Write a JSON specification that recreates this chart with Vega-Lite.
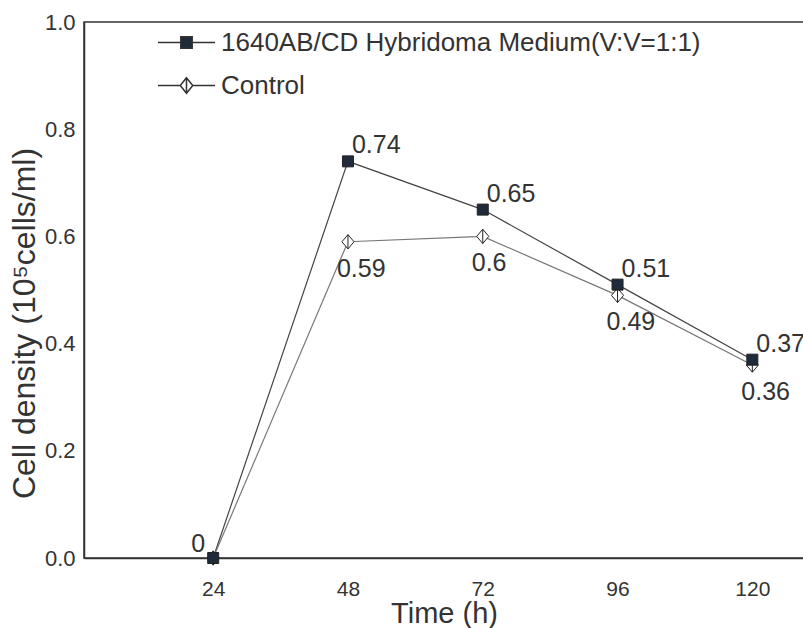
{
  "$schema": "https://vega.github.io/schema/vega-lite/v6.json",
  "width": 720,
  "height": 536,
  "autosize": {"type": "none"},
  "padding": {"left": 84, "top": 22, "right": 0, "bottom": 70},
  "background": "white",
  "config": {
    "font": "Liberation Sans",
    "view": {"stroke": "#333", "strokeWidth": 1.5},
    "axis": {"grid": false, "ticks": false, "domainColor": "#333", "domainWidth": 1.5, "labelColor": "#333", "titleColor": "#333", "labelFont": "Liberation Sans", "titleFont": "Liberation Sans", "titleFontWeight": "normal"}
  },
  "data": {
    "values": [
      {"time": 24, "density": 0, "series": "Control"},
      {"time": 48, "density": 0.59, "series": "Control"},
      {"time": 72, "density": 0.6, "series": "Control"},
      {"time": 96, "density": 0.49, "series": "Control"},
      {"time": 120, "density": 0.36, "series": "Control"},
      {"time": 24, "density": 0, "series": "1640AB/CD Hybridoma Medium(V:V=1:1)"},
      {"time": 48, "density": 0.74, "series": "1640AB/CD Hybridoma Medium(V:V=1:1)"},
      {"time": 72, "density": 0.65, "series": "1640AB/CD Hybridoma Medium(V:V=1:1)"},
      {"time": 96, "density": 0.51, "series": "1640AB/CD Hybridoma Medium(V:V=1:1)"},
      {"time": 120, "density": 0.37, "series": "1640AB/CD Hybridoma Medium(V:V=1:1)"}
    ]
  },
  "encoding": {
    "x": {"field": "time", "type": "quantitative", "scale": {"domain": [1, 129.2], "nice": false, "zero": false},
      "axis": {"values": [24, 48, 72, 96, 120], "title": "Time (h)", "labelFontSize": 21, "labelPadding": 20, "titleFontSize": 29, "titlePadding": 0}},
    "y": {"field": "density", "type": "quantitative", "scale": {"domain": [0, 1], "nice": false},
      "axis": {"values": [0, 0.2, 0.4, 0.6, 0.8, 1.0], "format": ".1f", "title": "Cell density (10⁵cells/ml)", "labelFontSize": 22, "labelPadding": 9, "titleFontSize": 32, "titlePadding": 3, "titleY": 301}}
  },
  "layer": [
    {
      "transform": [{"filter": "datum.series !== 'Control'"}],
      "mark": {"type": "line", "strokeWidth": 1.2, "stroke": "#444"},
      "encoding": {}
    },
    {
      "transform": [{"filter": "datum.series === 'Control'"}],
      "mark": {"type": "line", "strokeWidth": 1.2, "stroke": "#777"},
      "encoding": {}
    },
    {
      "transform": [{"filter": "datum.series === 'Control'"}],
      "mark": {"type": "point", "filled": true, "fill": "white", "stroke": "#222", "strokeWidth": 1, "opacity": 1, "size": 121, "shape": "M0,-1.3L1.1,0L0,1.3L-1.1,0ZM0,-1.3V1.3"},
      "encoding": {}
    },
    {
      "transform": [{"filter": "datum.series !== 'Control'"}],
      "mark": {"type": "point", "filled": true, "fill": "#1f2a3a", "stroke": "#222", "strokeWidth": 1, "opacity": 1, "size": 121, "shape": "M-1,-1H1V1H-1Z"},
      "encoding": {}
    },
    {
      "transform": [{"filter": "datum.time < 0"}],
      "mark": {"type": "point", "filled": true, "stroke": "#333", "strokeWidth": 1.2, "opacity": 1, "size": 3249},
      "encoding": {
        "shape": {"field": "series", "type": "nominal",
          "scale": {"domain": ["1640AB/CD Hybridoma Medium(V:V=1:1)", "Control"], "range": ["M-1,0H-0.2M0.2,0H1M-0.2,-0.2H0.2V0.2H-0.2Z", "M-1,0H-0.22M0.22,0H1M0,-0.27L0.22,0L0,0.27L-0.22,0ZM0,-0.27V0.27"]},
          "legend": {
            "title": null, "orient": "none", "legendX": 73, "legendY": -9, "padding": 0,
            "labelFontSize": 26, "labelColor": "#333", "labelFont": "Liberation Sans", "labelOffset": 5, "rowPadding": -8, "labelLimit": 0,
            "symbolSize": 3249,
            "encode": {"symbols": {
              "size": {"value": 3249},
              "stroke": {"value": "#333"},
              "strokeWidth": {"value": 1.2},
              "opacity": {"value": 1}
            }}
          }},
        "fill": {"field": "series", "type": "nominal", "scale": {"domain": ["1640AB/CD Hybridoma Medium(V:V=1:1)", "Control"], "range": ["#1f2a3a", "white"]}}
      }
    },
    {
      "transform": [{"filter": "datum.series !== 'Control' && datum.time > 24"}],
      "mark": {"type": "text", "align": "left", "baseline": "alphabetic", "dx": 4, "dy": -8, "fontSize": 25, "color": "#333"},
      "encoding": {"text": {"field": "density", "type": "nominal"}}
    },
    {
      "transform": [{"filter": "datum.series === 'Control' && datum.time > 24"}],
      "mark": {"type": "text", "align": "left", "baseline": "alphabetic", "dx": -11, "dy": 35, "fontSize": 25, "color": "#333"},
      "encoding": {"text": {"field": "density", "type": "nominal"}}
    },
    {
      "transform": [{"filter": "datum.series === 'Control' && datum.time == 24"}],
      "mark": {"type": "text", "align": "right", "baseline": "alphabetic", "dx": -8, "dy": -6, "fontSize": 25, "color": "#333"},
      "encoding": {"text": {"field": "density", "type": "nominal"}}
    }
  ]
}
